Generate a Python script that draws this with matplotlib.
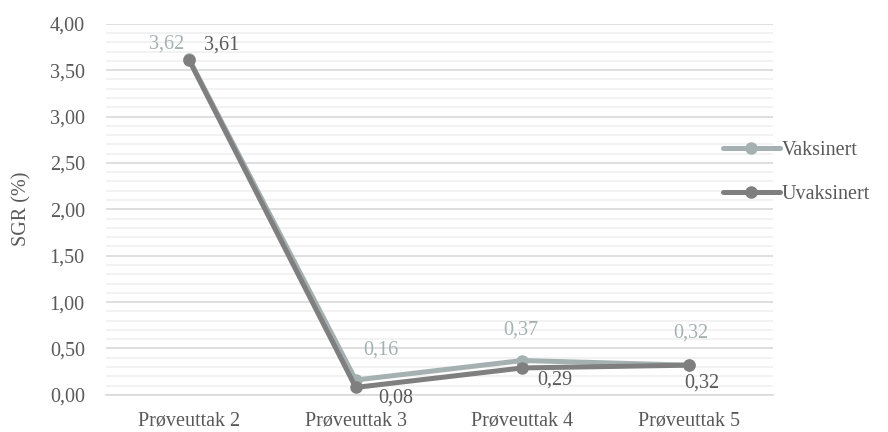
"""
SGR (%) per prøveuttak, vaksinert vs uvaksinert.
"""

import matplotlib.pyplot as plt
from matplotlib.ticker import MultipleLocator, FuncFormatter


categories = ['Prøveuttak 2', 'Prøveuttak 3', 'Prøveuttak 4', 'Prøveuttak 5']
vaksinert = [3.62, 0.16, 0.37, 0.32]
uvaksinert = [3.61, 0.08, 0.29, 0.32]

# label offsets in pixels (x, y)
vaks_offsets = [(-22, 15), (25, 30), (-2, 30), (2, 32)]
uvaks_offsets = [(33, 15), (40, -11), (32, -12), (13, -18)]

VAKS_COLOR = '#A5B1B1'
UVAKS_COLOR = '#7F7F7F'
TEXT_COLOR = '#595959'
FS = 14.5

plt.rcParams['font.family'] = ['Liberation Serif', 'DejaVu Serif']
plt.rcParams['font.size'] = FS

fig = plt.figure(figsize=(8.88, 4.32), dpi=100)
ax = fig.add_axes([0.119, 0.086, 0.751, 0.859])

x = list(range(len(categories)))

ax.plot(x, vaksinert, color=VAKS_COLOR, linewidth=3.6, marker='o', markersize=8,
        label='Vaksinert', solid_capstyle='round', zorder=3)
ax.plot(x, uvaksinert, color=UVAKS_COLOR, linewidth=3.6, marker='o', markersize=8,
        label='Uvaksinert', solid_capstyle='round', zorder=4)

for i in range(len(x)):
    ax.annotate(f'{vaksinert[i]:.2f}'.replace('.', ','), (x[i], vaksinert[i]),
                xytext=vaks_offsets[i], textcoords='offset pixels',
                ha='center', va='center', color=VAKS_COLOR, fontsize=FS)
    ax.annotate(f'{uvaksinert[i]:.2f}'.replace('.', ','), (x[i], uvaksinert[i]),
                xytext=uvaks_offsets[i], textcoords='offset pixels',
                ha='center', va='center', color=TEXT_COLOR, fontsize=FS)

ax.set_xlim(-0.5, len(categories) - 0.5)
ax.set_ylim(0, 4)
ax.set_xticks(x)
ax.set_xticklabels(categories, color=TEXT_COLOR)
ax.yaxis.set_major_locator(MultipleLocator(0.5))
ax.yaxis.set_minor_locator(MultipleLocator(0.1))
ax.yaxis.set_major_formatter(FuncFormatter(lambda v, p: f'{v:.2f}'.replace('.', ',')))
ax.tick_params(axis='both', which='both', length=0, colors=TEXT_COLOR, labelsize=FS)
ax.tick_params(axis='y', pad=15)
ax.tick_params(axis='x', pad=12)

ax.grid(which='major', axis='y', color='#D9D9D9', linewidth=1.2, zorder=0)
ax.grid(which='minor', axis='y', color='#F0F0F0', linewidth=1.2, zorder=0)
ax.set_axisbelow(True)
for side in ['top', 'right', 'left']:
    ax.spines[side].set_visible(False)
ax.spines['bottom'].set_color('#D9D9D9')
ax.spines['bottom'].set_linewidth(1.2)

ax.set_ylabel('SGR (%)', color=TEXT_COLOR, fontsize=FS, labelpad=13)

leg = ax.legend(loc='center left', bbox_to_anchor=(0.905, 0.6), frameon=False,
                handlelength=2.8, handletextpad=0.1, labelspacing=1.25,
                borderpad=0.2, fontsize=FS)
for t in leg.get_texts():
    t.set_color(TEXT_COLOR)

fig.savefig('out.png', dpi=100)
